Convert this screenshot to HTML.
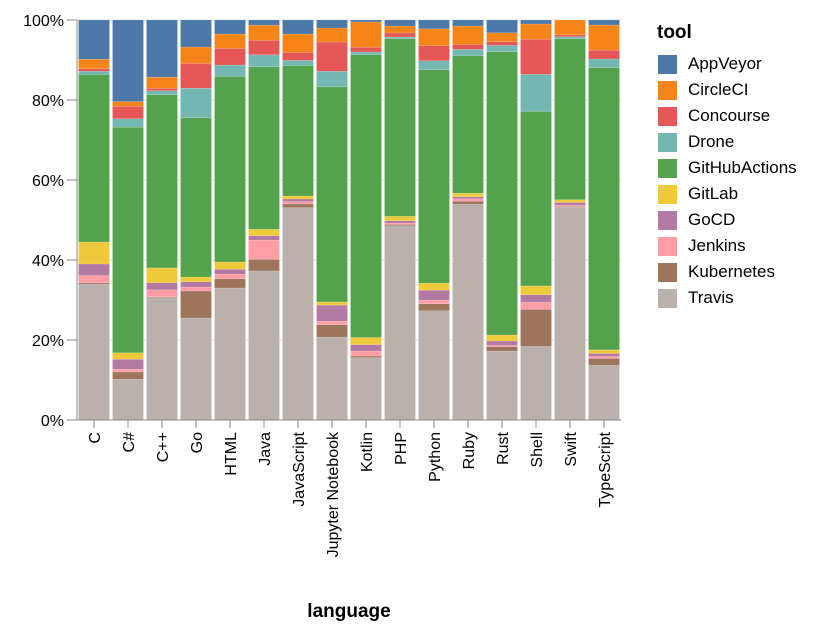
<!DOCTYPE html>
<html><head><meta charset="utf-8">
<style>
html,body{margin:0;padding:0;background:#fff;}
svg{display:block;font-family:"Liberation Sans",Arial,sans-serif;}
</style></head>
<body>
<svg id="chart" width="826" height="632" viewBox="0 0 826 632" xmlns="http://www.w3.org/2000/svg">
<g id="grid"></g>
<g id="bars"></g>
<g id="axes"></g>
<text x="349" y="617" text-anchor="middle" font-size="19" font-weight="bold" fill="#000">language</text>
<g id="legend">
<text x="657" y="38" font-size="19" font-weight="bold" fill="#000">tool</text>
</g>
</svg>
<script>
const categories = ["C","C#","C++","Go","HTML","Java","JavaScript","Jupyter Notebook","Kotlin","PHP","Python","Ruby","Rust","Shell","Swift","TypeScript"];
const tools = ["AppVeyor","CircleCI","Concourse","Drone","GitHubActions","GitLab","GoCD","Jenkins","Kubernetes","Travis"];
const colors = ["#4c78a8","#f58518","#e45756","#72b7b2","#54a24b","#eeca3b","#b279a2","#ff9da6","#9d755d","#bab0ac"];
const travis       = [34.0,10.2,30.6,25.5,33.0,37.25,53.1,20.7,15.6,48.6,27.3,54.0,17.25,18.4,53.25,13.7];
const kubernetes   = [0.3,1.8,0.2,6.75,2.3,2.9,0.9,3.1,0.4,0.3,1.75,0.75,1.1,9.25,0.15,1.7];
const jenkins      = [1.8,0.7,1.75,1.0,1.2,4.8,0.6,0.9,1.25,0.35,0.9,0.6,0.3,1.75,0.3,0.5];
const gocd         = [2.9,2.5,1.8,1.3,1.2,1.1,0.65,4.0,1.6,0.6,2.5,0.5,1.1,1.9,0.7,0.75];
const gitlab       = [5.5,1.6,3.7,1.2,1.8,1.6,0.75,0.8,1.8,1.1,1.75,0.9,1.5,2.2,0.7,0.9];
const githubactions= [41.9,56.4,43.3,39.8,46.4,40.6,32.6,53.75,70.7,44.4,53.3,34.4,70.8,43.6,40.25,70.6];
const drone        = [0.8,2.1,1.0,7.4,2.85,3.0,1.3,3.9,0.7,0.45,2.25,1.6,1.6,9.3,0.5,2.2];
const concourse    = [0.6,3.1,0.6,6.2,4.15,3.6,2.0,7.3,1.2,1.0,3.8,1.25,0.9,8.75,0.5,2.2];
const circleci     = [2.4,1.2,2.8,4.1,3.6,3.8,4.6,3.5,6.3,1.75,4.2,4.6,2.25,3.8,3.7,6.3];
const appveyor     = [9.8,20.4,14.3,6.75,3.5,1.3,3.5,2.0,0.5,1.5,2.2,1.5,3.2,1.0,0,1.25];
const yTicks = [0,20,40,60,80,100];

const series = {AppVeyor:appveyor,CircleCI:circleci,Concourse:concourse,Drone:drone,GitHubActions:githubactions,GitLab:gitlab,GoCD:gocd,Jenkins:jenkins,Kubernetes:kubernetes,Travis:travis};
const NS="http://www.w3.org/2000/svg";
const L=77,R=621,T=20,B=420;
const band=(R-L)/categories.length;
const xPos=i=>L+i*band;
const yPos=p=>B-(p/100)*(B-T);
function mk(tag,attrs,parent){const e=document.createElementNS(NS,tag);for(const k in attrs)e.setAttribute(k,attrs[k]);parent.appendChild(e);return e;}
const grid=document.getElementById('grid'),bars=document.getElementById('bars'),axes=document.getElementById('axes'),legend=document.getElementById('legend');

yTicks.forEach(t=>{
  const g=mk('line',{x1:L,x2:R,y1:yPos(t),y2:yPos(t),stroke:'#ddd','stroke-width':1},grid);
  
  
  const tk=mk('line',{x1:L-10,x2:L,y1:yPos(t),y2:yPos(t),stroke:'#888','stroke-width':1},axes);
  
  
  const lb=mk('text',{x:L-13,y:yPos(t)+6,'text-anchor':'end','font-size':16,fill:'#000'},axes);
  lb.textContent=t+'%';
  
  
});

categories.forEach((c,i)=>{
  let cum=0;
  const total=tools.reduce((s,t)=>s+series[t][i],0);
  for(let k=tools.length-1;k>=0;k--){
    const v=series[tools[k]][i]/total*100;
    const y0=yPos(cum),y1=yPos(cum+v);
    cum+=v;
    if(v<=0)continue;
    const r=mk('rect',{x:xPos(i)+1.5,y:y1,width:band-3,height:y0-y1,fill:colors[k],stroke:'#fff','stroke-opacity':0.25,'stroke-width':0.5},bars);
    
    
  }
  const cx=xPos(i)+band/2;
  const tk=mk('line',{x1:cx,x2:cx,y1:B,y2:B+8,stroke:'#888','stroke-width':1},axes);
  
  
  const lb=mk('text',{x:0,y:0,'text-anchor':'end','font-size':16,fill:'#000',transform:`translate(${cx+6},${B+12}) rotate(-90)`},axes);
  lb.textContent=c;
  
  
});

const ya=mk('line',{x1:L,x2:L,y1:T,y2:B,stroke:'#888','stroke-width':1},axes);


const xa=mk('line',{x1:L,x2:R,y1:B,y2:B,stroke:'#888','stroke-width':1},axes);



tools.forEach((t,k)=>{
  const y=55+k*26;
  const sw=mk('rect',{x:658,y:y,width:19,height:19,fill:colors[k]},legend);
  
  
  const tx=mk('text',{x:688,y:y+14,'font-size':17,fill:'#000'},legend);
  tx.textContent=t;
  
  
});
</script>
</body></html>
